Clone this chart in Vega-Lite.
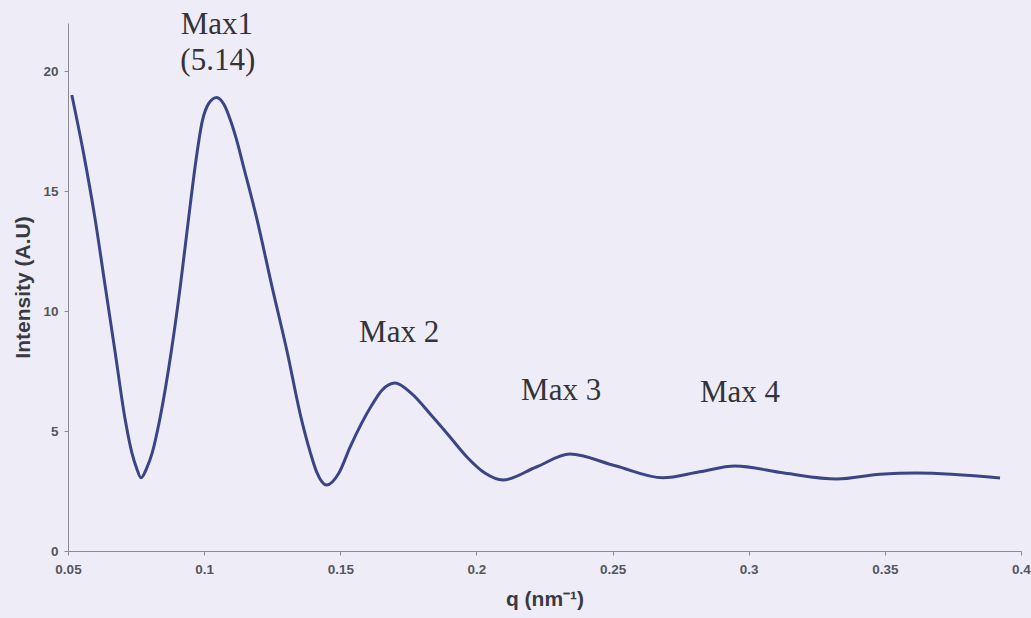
{
  "$schema": "https://vega.github.io/schema/vega-lite/v6.json",
  "width": 953,
  "height": 528,
  "autosize": {"type": "none"},
  "padding": {"left": 68, "top": 23, "right": 10, "bottom": 67},
  "background": "#eeedf7",
  "config": {
    "view": {"stroke": null},
    "axis": {"grid": false, "domainColor": "#8a8a94", "tickColor": "#8a8a94", "labelColor": "#55555d", "labelFont": "Liberation Sans", "labelFontWeight": "bold", "labelFontSize": 13.5, "titleFont": "Liberation Sans", "titleFontWeight": "bold", "titleColor": "#3a3a42", "titleFontSize": 21}
  },
  "layer": [
    {
      "data": {"values": [
        {"q": 0.0514, "I": 19.0},
        {"q": 0.0556, "I": 16.64},
        {"q": 0.0599, "I": 13.87},
        {"q": 0.0636, "I": 11.08},
        {"q": 0.0673, "I": 8.29},
        {"q": 0.0709, "I": 5.54},
        {"q": 0.0734, "I": 4.12},
        {"q": 0.0752, "I": 3.45},
        {"q": 0.0768, "I": 3.05},
        {"q": 0.0789, "I": 3.45},
        {"q": 0.0810, "I": 4.12},
        {"q": 0.0838, "I": 5.54},
        {"q": 0.0879, "I": 8.29},
        {"q": 0.0913, "I": 11.08},
        {"q": 0.0943, "I": 13.87},
        {"q": 0.0969, "I": 16.2},
        {"q": 0.0993, "I": 17.9},
        {"q": 0.1017, "I": 18.65},
        {"q": 0.1046, "I": 18.9},
        {"q": 0.1073, "I": 18.6},
        {"q": 0.1095, "I": 18.0},
        {"q": 0.1120, "I": 17.1},
        {"q": 0.1145, "I": 16.0},
        {"q": 0.1193, "I": 13.87},
        {"q": 0.1248, "I": 11.08},
        {"q": 0.1305, "I": 8.29},
        {"q": 0.1355, "I": 5.6},
        {"q": 0.1389, "I": 4.14},
        {"q": 0.1413, "I": 3.3},
        {"q": 0.1450, "I": 2.75},
        {"q": 0.1495, "I": 3.25},
        {"q": 0.1536, "I": 4.33},
        {"q": 0.1616, "I": 6.08},
        {"q": 0.1653, "I": 6.7},
        {"q": 0.1701, "I": 7.0},
        {"q": 0.1760, "I": 6.58},
        {"q": 0.1840, "I": 5.58},
        {"q": 0.1903, "I": 4.75},
        {"q": 0.1965, "I": 3.92},
        {"q": 0.2031, "I": 3.25},
        {"q": 0.2097, "I": 2.96},
        {"q": 0.2220, "I": 3.5},
        {"q": 0.2343, "I": 4.04},
        {"q": 0.2510, "I": 3.55},
        {"q": 0.2685, "I": 3.05},
        {"q": 0.2820, "I": 3.3},
        {"q": 0.2950, "I": 3.54},
        {"q": 0.3130, "I": 3.25},
        {"q": 0.3324, "I": 3.0},
        {"q": 0.3482, "I": 3.2},
        {"q": 0.3618, "I": 3.25},
        {"q": 0.3923, "I": 3.04}
      ]},
      "mark": {"type": "line", "interpolate": "monotone", "color": "#3b4585", "strokeWidth": 3},
      "encoding": {
        "x": {"field": "q", "type": "quantitative", "scale": {"domain": [0.05, 0.4], "nice": false, "zero": false},
          "axis": {"values": [0.05, 0.1, 0.15, 0.2, 0.25, 0.3, 0.35, 0.4], "format": "~g", "labelFlush": false, "tickSize": 4, "labelPadding": 7, "title": "q (nm⁻¹)", "titlePadding": 13}},
        "y": {"field": "I", "type": "quantitative", "scale": {"domain": [0, 22], "nice": false},
          "axis": {"values": [0, 5, 10, 15, 20], "tickSize": 4, "labelPadding": 6, "title": "Intensity (A.U)", "titlePadding": 9}}
      }
    },
    {
      "data": {"values": [
        {"q": 0.1047, "I": 21.9, "label": "Max1"},
        {"q": 0.1050, "I": 20.4, "label": "(5.14)"},
        {"q": 0.1716, "I": 9.1, "label": "Max 2"},
        {"q": 0.2311, "I": 6.67, "label": "Max 3"},
        {"q": 0.2968, "I": 6.58, "label": "Max 4"}
      ]},
      "mark": {"type": "text", "font": "Liberation Serif", "fontSize": 31, "color": "#333338", "baseline": "middle", "align": "center"},
      "encoding": {
        "x": {"field": "q", "type": "quantitative"},
        "y": {"field": "I", "type": "quantitative"},
        "text": {"field": "label"}
      }
    }
  ]
}
